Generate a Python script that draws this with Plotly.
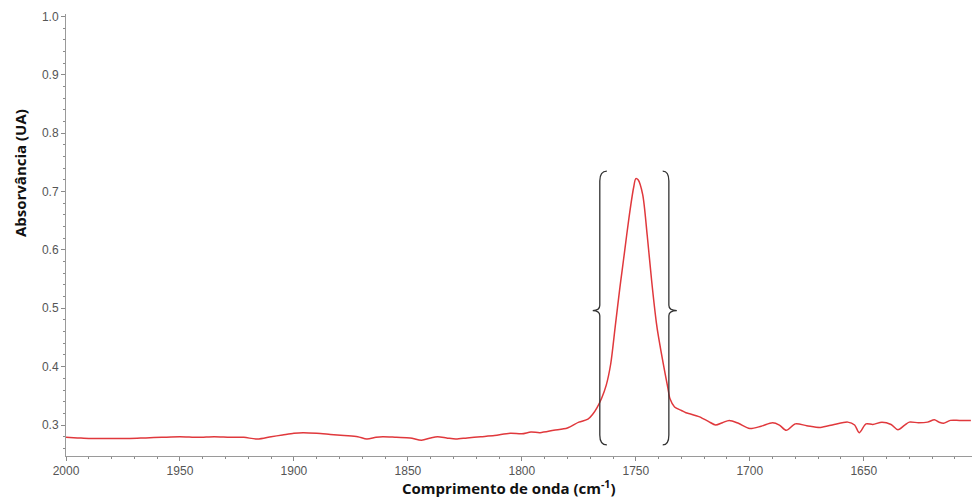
import plotly.graph_objects as go

wavenumber = [2000, 1995, 1990, 1985, 1980, 1972, 1965, 1958, 1950, 1942, 1935, 1928, 1922,
              1916, 1910, 1905, 1900, 1896, 1890, 1884, 1878, 1872, 1868, 1864, 1861, 1855,
              1849, 1844, 1840, 1837, 1833, 1829, 1824, 1818, 1812, 1805, 1800, 1796, 1792,
              1786, 1780, 1775, 1771, 1769, 1767, 1765, 1763, 1761, 1759, 1757, 1756, 1755,
              1753, 1751, 1750, 1749, 1747, 1745, 1743, 1741, 1740, 1738, 1736, 1735, 1733,
              1730, 1728, 1726, 1722, 1721, 1718, 1715, 1712, 1709, 1705, 1700, 1695, 1690,
              1687, 1684, 1680, 1675, 1669, 1663, 1657, 1654, 1652, 1649, 1646, 1642, 1638,
              1635, 1632, 1630, 1626, 1622, 1619, 1617, 1615, 1612, 1608, 1603]
absorbance = [0.279, 0.278, 0.277, 0.277, 0.277, 0.277, 0.278, 0.279, 0.280, 0.279, 0.280, 0.279, 0.279,
              0.276, 0.280, 0.283, 0.286, 0.287, 0.286, 0.284, 0.282, 0.280, 0.276, 0.279, 0.280, 0.279,
              0.278, 0.274, 0.278, 0.280, 0.278, 0.276, 0.278, 0.280, 0.282, 0.286, 0.285, 0.288, 0.287,
              0.291, 0.295, 0.305, 0.310, 0.318, 0.330, 0.346, 0.368, 0.405, 0.470, 0.535, 0.565, 0.595,
              0.655, 0.706, 0.722, 0.720, 0.695, 0.625, 0.545, 0.476, 0.450, 0.406, 0.365, 0.345, 0.331,
              0.325, 0.321, 0.319, 0.314, 0.312, 0.306, 0.300, 0.304, 0.308, 0.303, 0.294, 0.298, 0.304,
              0.300, 0.291, 0.302, 0.299, 0.296, 0.301, 0.305, 0.300, 0.287, 0.302, 0.301, 0.305, 0.301,
              0.292, 0.300, 0.305, 0.304, 0.305, 0.309, 0.305, 0.303, 0.308, 0.308, 0.308]

x_ticks = [2000, 1950, 1900, 1850, 1800, 1750, 1700, 1650]
y_ticks = [0.3, 0.4, 0.5, 0.6, 0.7, 0.8, 0.9, 1.0]

# bracket annotation (band region) in data units: tip, spine, point
brace_left = [1762.7, 1765.8, 1768.9]
brace_right = [1738.2, 1735.5, 1732.0]
brace_y = [0.735, 0.718, 0.505, 0.496, 0.283, 0.266]

fig = go.Figure()
fig.add_trace(go.Scatter(x=wavenumber, y=absorbance, mode="lines",
                         line=dict(color="#e0383c", width=1.5, shape="spline", smoothing=0.8),
                         showlegend=False, hoverinfo="skip"))


def brace(tip, spine, point):
    top, tspine, mid_up, mid, bot_spine, bot = brace_y
    mid_dn = mid - (mid_up - mid)
    return (f"M {tip},{top} Q {spine},{top} {spine},{tspine} "
            f"L {spine},{mid_up} Q {spine},{mid} {point},{mid} "
            f"Q {spine},{mid} {spine},{mid_dn} "
            f"L {spine},{bot_spine} Q {spine},{bot} {tip},{bot}")


for b in (brace_left, brace_right):
    fig.add_shape(type="path", path=brace(*b), xref="x", yref="y",
                  line=dict(color="#333333", width=1.3))

axis_common = dict(showgrid=False, zeroline=False, showline=True, linecolor="#9a9a9a",
                   linewidth=1, ticks="outside", ticklen=4, tickcolor="#8a8a8a",
                   tickfont=dict(family="Liberation Sans, Arial", size=12, color="#555555"))

fig.update_xaxes(range=[2000, 1602.5], tickvals=x_ticks, ticktext=[str(v) for v in x_ticks],
                 minor=dict(dtick=10, ticks="outside", ticklen=2, tickcolor="#8a8a8a"),
                 **axis_common)
fig.update_yaxes(range=[0.247, 1.004], tickvals=y_ticks, ticktext=[f"{v:.1f}" for v in y_ticks],
                 minor=dict(dtick=0.02, ticks="outside", ticklen=2, tickcolor="#8a8a8a"),
                 **axis_common)

fig.add_annotation(text="<b>Absorvância (UA)</b>", xref="paper", yref="paper",
                   x=-0.0508, y=0.640, xanchor="center", yanchor="middle",
                   textangle=-90, showarrow=False,
                   font=dict(family="Open Sans", size=15, color="#111111"))
fig.add_annotation(text="<b>Comprimento de onda (cm<sup>-1</sup>)</b>", xref="paper", yref="paper",
                   x=0.4884, y=-0.072, xanchor="center", yanchor="middle", showarrow=False,
                   font=dict(family="Open Sans", size=15, color="#111111"))

fig.update_layout(width=972, height=497, margin=dict(l=66, r=0, t=14, b=41),
                  plot_bgcolor="white", paper_bgcolor="white")

fig.write_html("out.html")
